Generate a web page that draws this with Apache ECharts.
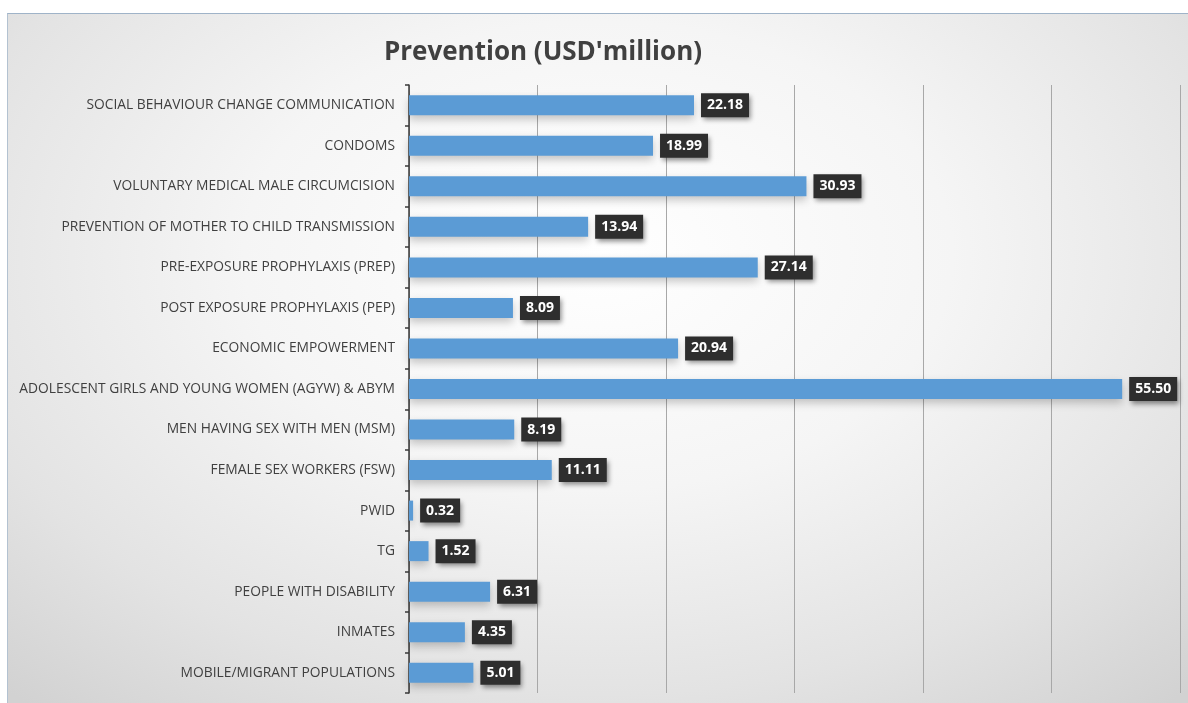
<!DOCTYPE html>
<html>
<head>
<meta charset="utf-8">
<script src="https://cdn.jsdelivr.net/npm/echarts@6/dist/echarts.min.js"></script>
<style>
  html, body { margin: 0; padding: 0; background: #ffffff; }
  #panel {
    position: absolute; left: 7px; top: 13px; width: 1181px; height: 690px;
    box-sizing: border-box;
    border-top: 1px solid #9fb3c8; border-left: 1px solid #b3c2d1;
    background: radial-gradient(ellipse 75% 85% at 50% 35%, #ffffff 0%, #f5f5f5 40%, #e3e3e3 75%, #d2d2d2 100%);
  }
  #chart { position: absolute; left: 0; top: 0; width: 1188px; height: 703px; }
</style>
</head>
<body>
<div id="panel"></div>
<div id="chart"></div>
<script>
// Prevention spending by intervention area (USD million)
const categories = [
  'SOCIAL BEHAVIOUR CHANGE COMMUNICATION',
  'CONDOMS',
  'VOLUNTARY MEDICAL MALE CIRCUMCISION',
  'PREVENTION OF MOTHER TO CHILD TRANSMISSION',
  'PRE-EXPOSURE PROPHYLAXIS (PREP)',
  'POST EXPOSURE PROPHYLAXIS (PEP)',
  'ECONOMIC EMPOWERMENT',
  'ADOLESCENT GIRLS AND YOUNG WOMEN (AGYW) & ABYM',
  'MEN HAVING SEX WITH MEN (MSM)',
  'FEMALE SEX WORKERS (FSW)',
  'PWID',
  'TG',
  'PEOPLE WITH DISABILITY',
  'INMATES',
  'MOBILE/MIGRANT POPULATIONS'
];
const values = [22.18, 18.99, 30.93, 13.94, 27.14, 8.09, 20.94, 55.50, 8.19, 11.11, 0.32, 1.52, 6.31, 4.35, 5.01];
const titleText = "Prevention (USD'million)";

const chart = echarts.init(document.getElementById('chart'), null, { renderer: 'canvas' });
chart.setOption({
  backgroundColor: 'transparent',
  animation: false,
  title: {
    text: titleText,
    left: 538, top: 35, textAlign: 'center',
    textStyle: { fontFamily: 'Open Sans', fontWeight: 'bold', fontSize: 26, color: '#404040' }
  },
  grid: { left: 409, right: 8, top: 85, bottom: 10, containLabel: false },
  xAxis: {
    type: 'value', min: 0, max: 60, interval: 10,
    axisLine: { show: false }, axisTick: { show: false }, axisLabel: { show: false },
    splitLine: { show: true, lineStyle: { color: '#a8a8a8', width: 1 } }
  },
  yAxis: {
    type: 'category', data: categories, inverse: true,
    axisLine: { show: true, lineStyle: { color: '#3a3a3a', width: 1.5 } },
    axisTick: { show: true, length: 4, lineStyle: { color: '#3a3a3a', width: 1.5 } },
    axisLabel: { margin: 14, fontFamily: 'Open Sans', fontSize: 13.8, color: '#404040' }
  },
  series: [{
    type: 'bar', data: values, barWidth: 20,
    itemStyle: { color: '#5b9bd5', shadowColor: 'rgba(0,0,0,0.22)', shadowBlur: 8, shadowOffsetY: 4 },
    label: {
      show: true, position: 'right', distance: 7,
      formatter: p => p.value.toFixed(2),
      backgroundColor: '#2e2e2e', color: '#ffffff',
      fontFamily: 'Open Sans', fontWeight: 'bold', fontSize: 14, lineHeight: 14,
      padding: [5, 6, 5, 6],
      shadowColor: 'rgba(0,0,0,0.45)', shadowBlur: 5, shadowOffsetX: 2, shadowOffsetY: 3
    }
  }]
});
</script>
</body>
</html>
